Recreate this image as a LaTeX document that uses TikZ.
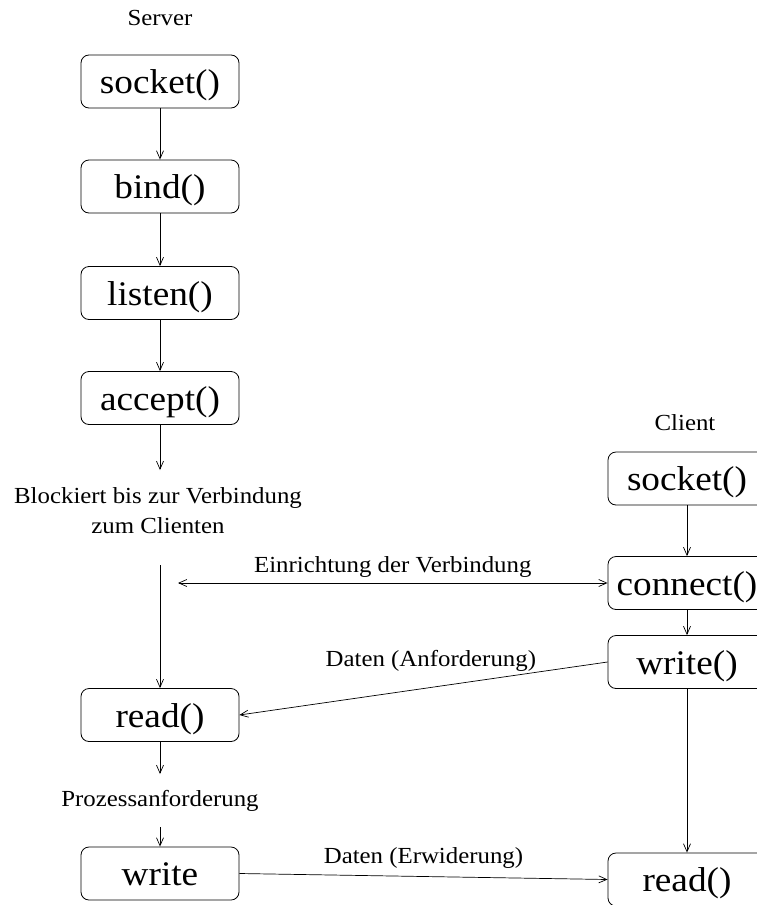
\documentclass[tikz,border=0pt]{standalone}
\usepackage{fontspec}
\setmainfont{Liberation Serif}[FakeStretch=1.08]
\usepackage{tikz}
\usetikzlibrary{arrows.meta,positioning}
\tikzset{
  bx/.style={draw,rounded corners=8pt,line width=0.8pt,minimum width=158pt,minimum height=53pt,inner sep=0pt,text height=31pt,text depth=6.5pt,font=\fontsize{34.5}{38}\selectfont},
  ar/.style={-{Straight Barb[length=8pt,width=7pt]},line width=0.7pt},
  ar2/.style={{Straight Barb[length=8pt,width=7pt]}-{Straight Barb[length=8pt,width=7pt]},line width=0.7pt},
  lb/.style={font=\fontsize{23}{30}\selectfont,inner sep=2pt,align=center}
}

\begin{document}
\begin{tikzpicture}[x=1pt,y=-1pt]
\useasboundingbox (0,0) rectangle (757,905);
\clip (0,0) rectangle (757,905);
% server column
\node[lb] (srv) at (160,18) {Server};
\node[bx] (ssock) at (160,81.5) {socket()};
\node[bx] (sbind) at (160,186.5) {bind()};
\node[bx] (slist) at (160,293) {listen()};
\node[bx] (sacc) at (160,398) {accept()};
\node[lb] (blk) at (158,511) {Blockiert bis zur Verbindung\\zum Clienten};
\node[bx] (sread) at (160,715) {read()};
\node[lb] (proc) at (160,801) {Prozessanforderung};
\node[bx] (swrite) at (160,873.5) {write};
\coordinate (w1) at (160,470);
\coordinate (w2) at (160,565);
\coordinate (w3) at (160,774);
\coordinate (w4) at (160,827);
\coordinate (w5) at (178,583);
\draw[ar] (ssock) -- (sbind);
\draw[ar] (sbind) -- (slist);
\draw[ar] (slist) -- (sacc);
\draw[ar] (sacc) -- (w1);
\draw[ar] (w2) -- (sread);
\draw[ar] (sread) -- (w3);
\draw[ar] (w4) -- (swrite);
% client column
\node[lb] (cli) at (685,423) {Client};
\node[bx] (csock) at (687,478.5) {socket()};
\node[bx] (ccon) at (687,583) {connect()};
\node[bx] (cwrite) at (687,662) {write()};
\node[bx] (cread) at (687,879.5) {read()};
\draw[ar] (csock) -- (ccon);
\draw[ar] (ccon) -- (cwrite);
\draw[ar] (cwrite) -- (cread);
% messages between both sides
\draw[ar2] (w5) -- (ccon)
  node[lb,midway,above=3pt] {Einrichtung der Verbindung};
\draw[ar] (cwrite.west) -- (sread.east)
  node[lb,pos=0.48,above=14pt] {Daten (Anforderung)};
\draw[ar] (swrite.east) -- (cread.west)
  node[lb,midway,above=6pt] {Daten (Erwiderung)};
\end{tikzpicture}
\end{document}
